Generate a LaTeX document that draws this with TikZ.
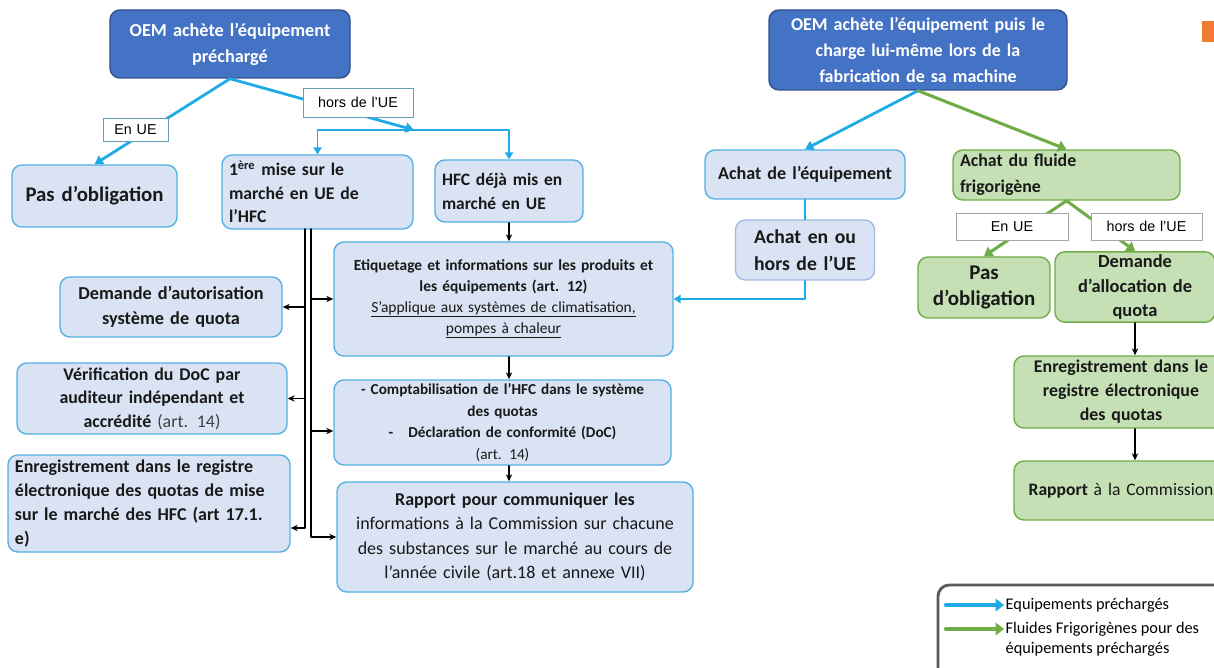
\documentclass[tikz,border=0pt]{standalone}
\usepackage{fontspec}
\setmainfont{Carlito}
\newfontfamily\arialfont{Liberation Sans}
\usetikzlibrary{arrows.meta}
\definecolor{bleuTete}{RGB}{68,114,196}
\definecolor{bleuTeteBord}{RGB}{47,82,143}
\definecolor{bleuFond}{RGB}{218,227,243}
\definecolor{bleuBord}{RGB}{84,176,226}
\definecolor{bleuFleche}{RGB}{30,171,229}
\definecolor{vertFond}{RGB}{197,224,180}
\definecolor{vertBord}{RGB}{112,173,71}
\definecolor{grisBord}{RGB}{89,89,89}
\definecolor{orangeCoin}{RGB}{237,125,49}
\begin{document}
\begin{tikzpicture}[x=0.025cm, y=-0.025cm, line join=round, line cap=round,
    taille/.code 2 args={\pgfmathsetmacro\largeur{(#1-14)*0.025}%
      \tikzset{minimum width=#1*0.025cm, minimum height=#2*0.025cm, text width=\largeur cm}},
    fs/.style 2 args={font=\fontsize{#1}{#2}\selectfont\bfseries},
    boite/.style={draw=bleuBord, fill=bleuFond, line width=1pt, rounded corners=7pt, align=center, inner sep=2pt, text=black!90},
    tete/.style={boite, draw=bleuTeteBord, fill=bleuTete, text=white},
    vert/.style={boite, draw=vertBord, fill=vertFond},
    etiquette/.style={draw=bleuBord!60!gray, fill=white, line width=0.6pt, inner sep=1pt, align=center, font=\arialfont\fontsize{10.2}{12}\selectfont},
    bleu/.style={draw=bleuFleche, line width=2pt, -{Triangle[length=6pt,width=7pt]}},
    bleufin/.style={draw=bleuFleche, line width=1.3pt, -{Triangle[length=5pt,width=6pt]}},
    vertf/.style={draw=vertBord, line width=2.2pt, -{Triangle[length=6pt,width=8pt]}},
    noir/.style={draw=black, line width=0.8pt, -{Stealth[length=5pt,width=4.5pt]}},
    bus/.style={noir, line width=1.4pt}]
  \clip (0,0) rectangle (1214,668);
  %Partie gauche
  \node[tete, taille={240}{68}, fs={13}{18.4}] (oemA) at (230,44) {OEM achète l’équipement\\préchargé};
  \node[boite, taille={165}{62}, fs={14.8}{16}] (pasA) at (94.5,196) {Pas d’obligation};
  \node[boite, taille={191}{74}, fs={12.6}{16.7}, align=left] (premiere) at (317.5,192) {1\textsuperscript{ère} mise sur le\\marché en UE de\\l’HFC};
  \node[boite, taille={148}{62}, fs={12.4}{17}, align=left] (hfc) at (509,191) {HFC déjà mis en\\marché en UE};
  \node[boite, taille={339}{114}, fs={11}{14.9}] (etiq) at (503.5,299) {Etiquetage et informations sur les produits et\\les équipements (art. 12)\\\mdseries\underline{S’applique aux systèmes de climatisation,}\\\mdseries\underline{pompes à chaleur}};
  \node[boite, taille={337}{85}, fs={10.8}{15.3}] (compta) at (502.5,422.5) {- Comptabilisation de l’HFC dans le système\\des quotas\\-\quad Déclaration de conformité (DoC)\\\mdseries(art. 14)};
  \node[boite, taille={356}{110}, fs={12.8}{17.4}] (rapportA) at (515,537) {Rapport pour communiquer les\\\mdseries informations à la Commission sur chacune\\\mdseries des substances sur le marché au cours de\\\mdseries l’année civile (art.18 et annexe VII)};
  \node[boite, taille={222}{60}, fs={13}{17.7}] (demande) at (171,307) {Demande d’autorisation\\système de quota};
  \node[boite, taille={270}{71}, fs={12.7}{16.7}] (verif) at (152,398.5) {Vérification du DoC par\\auditeur indépendant et\\accrédité {\mdseries\color{black!75}(art. 14)}};
  \node[boite, taille={282}{97}, fs={12.8}{17.2}, align=left] (enrA) at (149,503.5) {Enregistrement dans le registre\\électronique des quotas de mise\\sur le marché des HFC (art 17.1.\\e)};
  \node[etiquette, taille={110}{29}] (horsA) at (358,102.5) {hors de l’UE};
  \node[etiquette, taille={65}{23}] (enA) at (135.5,129.5) {En UE};
  \coordinate (pivot) at (414,130);
  \coordinate (busG) at (305,229);
  \coordinate (busD) at (311,229);
  %Partie droite
  \node[tete, taille={298}{80}, fs={12.8}{18.4}] (oemB) at (918,50) {OEM achète l’équipement puis le\\charge lui-même lors de la\\fabrication de sa machine};
  \node[boite, taille={200}{49}, fs={12.9}{16}] (achatEq) at (805,174.5) {Achat de l’équipement};
  \node[boite, draw=bleuTete!50, taille={139}{60}, fs={14}{19}] (achatEnOu) at (805,250) {Achat en ou\\hors de l’UE};
  \node[vert, taille={227}{50}, fs={12.7}{18.4}, align=left] (fluide) at (1066.5,175) {Achat du fluide\\frigorigène};
  \node[vert, taille={132}{61}, fs={14.9}{19}] (pasB) at (984,287.5) {Pas\\d’obligation};
  \node[vert, taille={160}{70}, fs={13.1}{17.4}] (allocation) at (1135,287) {Demande\\d’allocation de\\quota};
  \node[vert, taille={214}{72}, fs={12.7}{17}] (enrB) at (1121,392) {Enregistrement dans le\\registre électronique\\des quotas};
  \node[vert, taille={214}{59}, fs={12.5}{16}] (rapportB) at (1121,490.5) {Rapport {\mdseries à la Commission}};
  \node[etiquette, draw=gray!70, taille={112}{27}] (enB) at (1012,226.5) {En UE};
  \node[etiquette, draw=gray!70, taille={111}{27}] (horsB) at (1146.5,226.5) {hors de l’UE};
  %Fleches
  \draw[bleu] (oemA.south) -- (pasA.north);
  \draw[bleu] (oemA.south) -- (pivot);
  \draw[bleufin] (pivot) -| (premiere.north);
  \draw[bleufin] (pivot) -| (hfc.north);
  \node[etiquette, taille={110}{29}] at (horsA) {hors de l’UE};
  \node[etiquette, taille={65}{23}] at (enA) {En UE};
  \draw[noir] (hfc.south) -- (hfc.south |- etiq.north);
  \draw[noir] (etiq.south -| hfc.south) -- (hfc.south |- compta.north);
  \draw[noir] (compta.south -| hfc.south) -- (hfc.south |- rapportA.north);
  \draw[bus] (busG) |- (enrA.east |- 0,528);
  \draw[bus] (busD) |- (rapportA.west);
  \draw[noir] (busG |- demande) -- (demande.east);
  \draw[noir] (busG |- verif) -- (verif.east);
  \draw[noir] (busD |- etiq) -- (etiq.west);
  \draw[noir] (busD |- 0,431) -- (compta.west |- 0,431);
  \draw[bleu] (oemB.south) -- (achatEq.north);
  \draw[bleuFleche, line width=1.3pt] (achatEq.south) -- (achatEnOu.north);
  \draw[bleufin] (achatEnOu.south) |- (etiq.east);
  \draw[vertf] (oemB.south) -- (fluide.north);
  \draw[vertf] (fluide.south) -- (pasB.north);
  \draw[vertf] (fluide.south) -- (allocation.north);
  \node[etiquette, draw=gray!70, taille={112}{27}] at (enB) {En UE};
  \node[etiquette, draw=gray!70, taille={111}{27}] at (horsB) {hors de l’UE};
  \draw[noir] (allocation.south) -- (allocation.south |- enrB.north);
  \draw[noir] (enrB.south -| allocation.south) -- (allocation.south |- rapportB.north);
  %Legende
  \draw[grisBord, line width=2pt, rounded corners=8pt] (938,585) rectangle (1240,700);
  \node[anchor=west, inner sep=1pt, font=\fontsize{11.6}{14.5}\selectfont] (legA) at (1004,605) {Equipements préchargés};
  \node[anchor=west, inner sep=1pt, align=left, font=\fontsize{11.6}{14.5}\selectfont] (legB) at (1004,639) {Fluides Frigorigènes pour des\\équipements préchargés};
  \coordinate (debA) at (946,605);
  \coordinate (debB) at (946,629);
  \draw[bleuFleche, line width=3pt, -{Triangle[length=6pt,width=9pt]}] (debA) -- (debA -| legA.west);
  \draw[vertBord, line width=3pt, -{Triangle[length=6pt,width=9pt]}] (debB) -- (debB -| legB.west);
  \fill[orangeCoin] (1202,21) rectangle (1216,42);
\end{tikzpicture}
\end{document}
